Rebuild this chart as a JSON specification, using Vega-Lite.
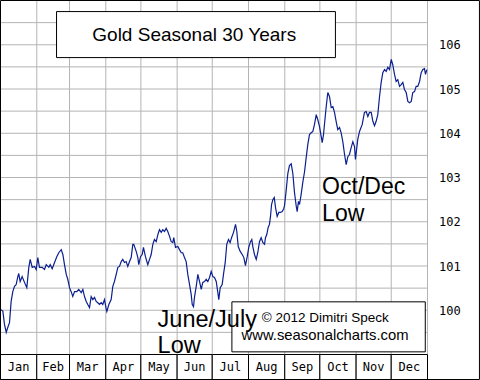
{
  "$schema": "https://vega.github.io/schema/vega-lite/v6.json",
  "autosize": {"type": "none"},
  "width": 427,
  "height": 354,
  "padding": {"left": 0.5, "top": 0.5, "right": 52.5, "bottom": 25.5},
  "background": "white",
  "config": {"view": {"stroke": null}},
  "data": {"values": [{}]},
  "datasets": {
    "gold": [
      {"d":0,"v":100.02},{"d":2.0,"v":99.98},{"d":3.4,"v":99.68},{"d":4.9,"v":99.50},{"d":6.2,"v":99.61},{"d":7.7,"v":99.72},{"d":9.1,"v":100.20},{"d":10.5,"v":100.42},{"d":12.0,"v":100.54},{"d":13.4,"v":100.58},{"d":14.8,"v":100.76},{"d":15.6,"v":100.83},{"d":16.8,"v":100.65},{"d":18.5,"v":100.76},{"d":20.5,"v":100.63},{"d":22.5,"v":100.51},{"d":24.2,"v":100.97},{"d":25.4,"v":101.15},{"d":27.1,"v":100.97},{"d":29.1,"v":100.99},{"d":30.5,"v":100.92},{"d":31.9,"v":101.19},{"d":33.3,"v":100.97},{"d":35.6,"v":100.97},{"d":37.6,"v":100.92},{"d":39.1,"v":101.03},{"d":41.3,"v":100.97},{"d":42.5,"v":101.03},{"d":44.2,"v":100.94},{"d":46.2,"v":101.08},{"d":48.1,"v":101.21},{"d":49.8,"v":101.30},{"d":51.9,"v":101.37},{"d":53.3,"v":101.26},{"d":54.7,"v":101.03},{"d":56.2,"v":100.81},{"d":57.5,"v":100.70},{"d":59.0,"v":100.51},{"d":60.4,"v":100.42},{"d":61.8,"v":100.31},{"d":63.3,"v":100.42},{"d":65.2,"v":100.42},{"d":66.9,"v":100.47},{"d":69.0,"v":100.40},{"d":70.4,"v":100.47},{"d":71.8,"v":100.31},{"d":73.3,"v":100.20},{"d":74.6,"v":100.13},{"d":76.1,"v":100.06},{"d":77.5,"v":100.31},{"d":78.9,"v":100.24},{"d":80.4,"v":100.29},{"d":81.8,"v":100.20},{"d":83.2,"v":100.17},{"d":84.6,"v":100.13},{"d":86.1,"v":100.17},{"d":87.4,"v":100.13},{"d":88.9,"v":100.24},{"d":90.4,"v":100.02},{"d":90.9,"v":99.97},{"d":92.6,"v":100.13},{"d":94.6,"v":100.24},{"d":96.0,"v":100.54},{"d":97.4,"v":100.65},{"d":98.9,"v":100.81},{"d":100.3,"v":100.97},{"d":101.7,"v":100.99},{"d":103.2,"v":101.10},{"d":104.5,"v":101.15},{"d":106.0,"v":101.08},{"d":107.4,"v":101.10},{"d":108.8,"v":100.99},{"d":110.3,"v":101.10},{"d":111.7,"v":101.19},{"d":113.1,"v":101.49},{"d":113.9,"v":101.49},{"d":116.0,"v":101.33},{"d":117.4,"v":101.19},{"d":118.2,"v":101.03},{"d":119.7,"v":101.21},{"d":121.1,"v":101.26},{"d":122.2,"v":101.42},{"d":123.9,"v":101.21},{"d":125.9,"v":101.03},{"d":127.4,"v":101.15},{"d":128.8,"v":101.26},{"d":130.2,"v":101.49},{"d":131.6,"v":101.60},{"d":133.1,"v":101.55},{"d":134.5,"v":101.71},{"d":135.9,"v":101.82},{"d":137.4,"v":101.76},{"d":138.7,"v":101.82},{"d":140.2,"v":101.78},{"d":141.6,"v":101.85},{"d":143.0,"v":101.78},{"d":144.5,"v":101.67},{"d":145.9,"v":101.55},{"d":147.3,"v":101.53},{"d":148.1,"v":101.64},{"d":149.6,"v":101.42},{"d":151.6,"v":101.44},{"d":153.0,"v":101.37},{"d":154.5,"v":101.30},{"d":155.8,"v":101.30},{"d":157.3,"v":101.19},{"d":158.7,"v":101.10},{"d":160.1,"v":100.81},{"d":161.6,"v":100.58},{"d":163.0,"v":100.36},{"d":163.9,"v":100.13},{"d":165.0,"v":100.08},{"d":165.8,"v":100.29},{"d":167.3,"v":100.54},{"d":168.7,"v":100.81},{"d":170.1,"v":100.65},{"d":171.6,"v":100.47},{"d":172.9,"v":100.63},{"d":174.4,"v":100.65},{"d":175.8,"v":100.70},{"d":177.2,"v":100.65},{"d":178.7,"v":100.74},{"d":180.1,"v":100.88},{"d":181.5,"v":100.76},{"d":182.9,"v":100.74},{"d":184.4,"v":100.65},{"d":185.8,"v":100.40},{"d":186.6,"v":100.24},{"d":187.8,"v":100.51},{"d":189.5,"v":100.58},{"d":190.6,"v":100.81},{"d":192.1,"v":101.08},{"d":193.4,"v":101.49},{"d":194.9,"v":101.60},{"d":196.3,"v":101.53},{"d":197.5,"v":101.64},{"d":199.2,"v":101.76},{"d":200.9,"v":101.94},{"d":202.0,"v":101.78},{"d":203.2,"v":101.44},{"d":204.9,"v":101.33},{"d":206.6,"v":101.26},{"d":208.0,"v":101.19},{"d":209.4,"v":101.01},{"d":210.9,"v":101.21},{"d":212.2,"v":101.42},{"d":213.7,"v":101.55},{"d":214.8,"v":101.60},{"d":215.7,"v":101.44},{"d":217.1,"v":101.26},{"d":218.6,"v":101.15},{"d":219.9,"v":101.30},{"d":221.4,"v":101.55},{"d":222.8,"v":101.64},{"d":224.2,"v":101.53},{"d":225.7,"v":101.49},{"d":226.5,"v":101.64},{"d":227.6,"v":101.71},{"d":228.8,"v":101.87},{"d":229.9,"v":101.94},{"d":230.8,"v":102.12},{"d":231.7,"v":102.39},{"d":232.8,"v":102.50},{"d":234.0,"v":102.55},{"d":235.1,"v":102.32},{"d":236.5,"v":102.12},{"d":237.9,"v":102.21},{"d":239.3,"v":102.21},{"d":240.8,"v":102.23},{"d":242.2,"v":102.30},{"d":242.8,"v":102.37},{"d":244.2,"v":102.71},{"d":245.6,"v":103.09},{"d":247.0,"v":103.27},{"d":248.5,"v":103.31},{"d":249.9,"v":103.09},{"d":251.3,"v":102.66},{"d":252.8,"v":102.35},{"d":253.6,"v":102.23},{"d":254.7,"v":102.46},{"d":255.6,"v":102.39},{"d":257.0,"v":102.62},{"d":258.4,"v":102.89},{"d":259.9,"v":103.13},{"d":261.3,"v":103.45},{"d":262.7,"v":103.75},{"d":264.1,"v":103.97},{"d":265.6,"v":104.01},{"d":267.0,"v":104.04},{"d":268.4,"v":104.20},{"d":269.9,"v":104.42},{"d":271.2,"v":104.31},{"d":272.7,"v":104.15},{"d":274.1,"v":103.93},{"d":275.0,"v":103.79},{"d":276.1,"v":103.97},{"d":277.2,"v":104.27},{"d":278.4,"v":104.60},{"d":279.8,"v":104.92},{"d":281.2,"v":104.83},{"d":282.7,"v":104.58},{"d":284.1,"v":104.60},{"d":285.5,"v":104.47},{"d":286.9,"v":104.27},{"d":288.3,"v":104.08},{"d":289.8,"v":104.13},{"d":291.2,"v":104.01},{"d":292.6,"v":103.81},{"d":294.1,"v":103.52},{"d":295.5,"v":103.29},{"d":296.9,"v":103.47},{"d":298.3,"v":103.52},{"d":299.8,"v":103.68},{"d":301.2,"v":103.81},{"d":302.6,"v":103.70},{"d":303.4,"v":103.41},{"d":305.4,"v":103.86},{"d":306.9,"v":104.04},{"d":309.2,"v":104.20},{"d":311.1,"v":104.47},{"d":312.6,"v":104.49},{"d":314.0,"v":104.38},{"d":315.4,"v":104.47},{"d":316.9,"v":104.47},{"d":318.3,"v":104.27},{"d":319.7,"v":104.17},{"d":321.1,"v":104.27},{"d":322.5,"v":104.42},{"d":324.0,"v":104.83},{"d":325.4,"v":105.15},{"d":326.8,"v":105.37},{"d":328.3,"v":105.44},{"d":329.7,"v":105.40},{"d":331.1,"v":105.49},{"d":332.5,"v":105.44},{"d":334.0,"v":105.67},{"d":335.3,"v":105.55},{"d":336.8,"v":105.33},{"d":338.2,"v":105.17},{"d":339.6,"v":105.21},{"d":341.1,"v":105.06},{"d":342.5,"v":105.10},{"d":343.9,"v":105.15},{"d":345.3,"v":104.99},{"d":346.8,"v":104.92},{"d":348.2,"v":104.72},{"d":349.6,"v":104.69},{"d":351.1,"v":104.72},{"d":352.4,"v":104.92},{"d":353.9,"v":104.94},{"d":355.3,"v":105.06},{"d":356.7,"v":105.06},{"d":358.2,"v":105.17},{"d":359.6,"v":105.37},{"d":361.0,"v":105.44},{"d":362.4,"v":105.46},{"d":363.3,"v":105.33},{"d":364.4,"v":105.44}
    ],
    "months": [
      {"m":"Jan","start":0,"end":31,"mid":15.5},
      {"m":"Feb","start":31,"end":59,"mid":45},
      {"m":"Mar","start":59,"end":90,"mid":74.5},
      {"m":"Apr","start":90,"end":120,"mid":105},
      {"m":"May","start":120,"end":151,"mid":135.5},
      {"m":"Jun","start":151,"end":181,"mid":166},
      {"m":"Jul","start":181,"end":212,"mid":196.5},
      {"m":"Aug","start":212,"end":243,"mid":227.5},
      {"m":"Sep","start":243,"end":273,"mid":258},
      {"m":"Oct","start":273,"end":304,"mid":288.5},
      {"m":"Nov","start":304,"end":334,"mid":319},
      {"m":"Dec","start":334,"end":365,"mid":349.5}
    ],
    "ygrid": [
      {"g":99.5},{"g":100},{"g":100.5},{"g":101},{"g":101.5},{"g":102},{"g":102.5},{"g":103},{"g":103.5},{"g":104},{"g":104.5},{"g":105},{"g":105.5},{"g":106},{"g":106.5}
    ]
  },
  "layer": [
    {
      "data": {"name": "ygrid"},
      "mark": {"type": "rule", "color": "#b4b4b4", "strokeWidth": 1},
      "encoding": {
        "y": {"field": "g", "type": "quantitative",
          "scale": {"domain": [99, 107], "nice": false, "zero": false},
          "axis": {"orient": "right", "values": [100,101,102,103,104,105,106], "format": "d",
            "grid": false, "ticks": false, "domain": false, "title": null,
            "labelFont": "DejaVu Sans Mono", "labelFontSize": 12, "labelColor": "#000000", "labelPadding": 11}}
      }
    },
    {
      "data": {"name": "months"},
      "mark": {"type": "rule", "color": "#b4b4b4", "strokeWidth": 1},
      "encoding": {
        "x": {"field": "end", "type": "quantitative",
          "scale": {"domain": [0, 365], "nice": false, "zero": false}, "axis": null}
      }
    },
    {
      "data": {"name": "gold"},
      "mark": {"type": "line", "color": "#0b1f8f", "strokeWidth": 1.2, "clip": true},
      "encoding": {
        "x": {"field": "d", "type": "quantitative", "scale": {"domain": [0, 365], "nice": false, "zero": false}, "axis": null},
        "y": {"field": "v", "type": "quantitative", "scale": {"domain": [99, 107], "nice": false, "zero": false}}
      }
    },
    {
      "mark": {"type": "rect", "fill": "white", "stroke": "black", "strokeWidth": 1},
      "encoding": {
        "x": {"datum": 47.9, "type": "quantitative", "scale": {"domain": [0, 365], "nice": false, "zero": false}, "axis": null},
        "x2": {"datum": 286.3},
        "y": {"datum": 106.75, "type": "quantitative", "scale": {"domain": [99, 107], "nice": false, "zero": false}},
        "y2": {"datum": 105.71}
      }
    },
    {
      "mark": {"type": "text", "text": "Gold Seasonal 30 Years", "font": "Liberation Sans", "fontSize": 19, "align": "center", "baseline": "alphabetic", "color": "black"},
      "encoding": {
        "x": {"datum": 165.6, "type": "quantitative", "scale": {"domain": [0, 365], "nice": false, "zero": false}, "axis": null},
        "y": {"datum": 106.085, "type": "quantitative", "scale": {"domain": [99, 107], "nice": false, "zero": false}}
      }
    },
    {
      "mark": {"type": "rect", "fill": "white", "stroke": "black", "strokeWidth": 1},
      "encoding": {
        "x": {"datum": 197.8, "type": "quantitative", "scale": {"domain": [0, 365], "nice": false, "zero": false}, "axis": null},
        "x2": {"datum": 363.1},
        "y": {"datum": 100.19, "type": "quantitative", "scale": {"domain": [99, 107], "nice": false, "zero": false}},
        "y2": {"datum": 99.06}
      }
    },
    {
      "mark": {"type": "text", "text": "© 2012  Dimitri Speck", "font": "Liberation Sans", "fontSize": 13.5, "align": "left", "baseline": "alphabetic", "color": "black"},
      "encoding": {
        "x": {"datum": 223.3, "type": "quantitative", "scale": {"domain": [0, 365], "nice": false, "zero": false}, "axis": null},
        "y": {"datum": 99.73, "type": "quantitative", "scale": {"domain": [99, 107], "nice": false, "zero": false}}
      }
    },
    {
      "mark": {"type": "text", "text": "www.seasonalcharts.com", "font": "Liberation Sans", "fontSize": 14.8, "align": "left", "baseline": "alphabetic", "color": "black"},
      "encoding": {
        "x": {"datum": 206.1, "type": "quantitative", "scale": {"domain": [0, 365], "nice": false, "zero": false}, "axis": null},
        "y": {"datum": 99.33, "type": "quantitative", "scale": {"domain": [99, 107], "nice": false, "zero": false}}
      }
    },
    {
      "mark": {"type": "text", "text": ["Oct/Dec", "Low"], "font": "Liberation Sans", "fontSize": 23, "lineHeight": 26.7, "align": "left", "baseline": "alphabetic", "color": "black"},
      "encoding": {
        "x": {"datum": 274.9, "type": "quantitative", "scale": {"domain": [0, 365], "nice": false, "zero": false}, "axis": null},
        "y": {"datum": 102.63, "type": "quantitative", "scale": {"domain": [99, 107], "nice": false, "zero": false}}
      }
    },
    {
      "mark": {"type": "text", "text": ["June/July", "Low"], "font": "Liberation Sans", "fontSize": 23.5, "lineHeight": 26.7, "align": "left", "baseline": "alphabetic", "color": "black"},
      "encoding": {
        "x": {"datum": 134.3, "type": "quantitative", "scale": {"domain": [0, 365], "nice": false, "zero": false}, "axis": null},
        "y": {"datum": 99.63, "type": "quantitative", "scale": {"domain": [99, 107], "nice": false, "zero": false}}
      }
    },
    {
      "data": {"name": "months"},
      "mark": {"type": "rect", "fill": "white", "stroke": "black", "strokeWidth": 1},
      "encoding": {
        "x": {"field": "start", "type": "quantitative", "scale": {"domain": [0, 365], "nice": false, "zero": false}, "axis": null},
        "x2": {"field": "end"},
        "y": {"datum": 99, "type": "quantitative", "scale": {"domain": [99, 107], "nice": false, "zero": false}},
        "y2": {"datum": 98.435}
      }
    },
    {
      "data": {"name": "months"},
      "mark": {"type": "text", "font": "DejaVu Sans Mono", "fontSize": 12, "align": "center", "baseline": "alphabetic", "color": "black"},
      "encoding": {
        "x": {"field": "mid", "type": "quantitative", "scale": {"domain": [0, 365], "nice": false, "zero": false}, "axis": null},
        "y": {"datum": 98.62, "type": "quantitative", "scale": {"domain": [99, 107], "nice": false, "zero": false}},
        "text": {"field": "m"}
      }
    },
    {
      "mark": {"type": "rect", "fill": "transparent", "stroke": "black", "strokeWidth": 1},
      "encoding": {
        "x": {"datum": 0, "type": "quantitative", "scale": {"domain": [0, 365], "nice": false, "zero": false}, "axis": null},
        "x2": {"datum": 409.4},
        "y": {"datum": 107, "type": "quantitative", "scale": {"domain": [99, 107], "nice": false, "zero": false}},
        "y2": {"datum": 98.435}
      }
    }
  ]
}
